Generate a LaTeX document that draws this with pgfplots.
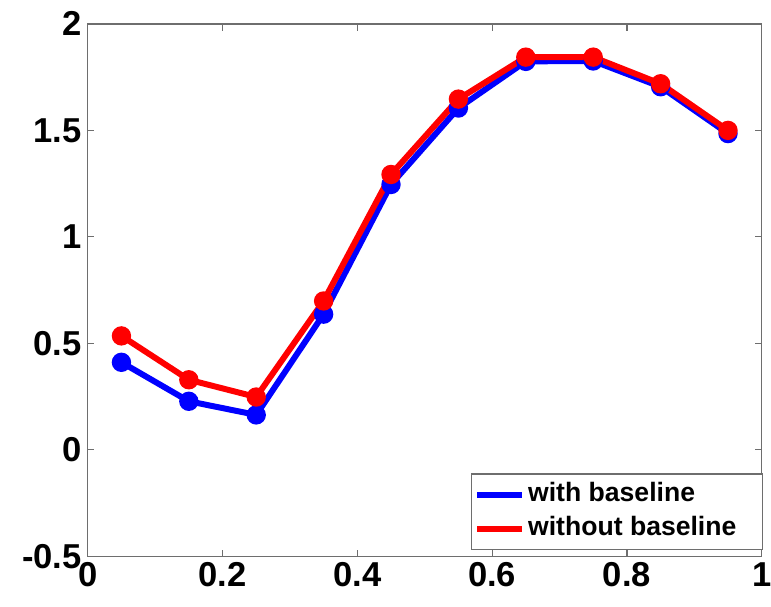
\documentclass[border=0pt]{standalone}
\usepackage{fontspec}
\setmainfont{Liberation Sans}
\usepackage{pgfplots}
\pgfplotsset{compat=1.18}

\definecolor{mblue}{RGB}{0,0,255}
\definecolor{mred}{RGB}{255,0,0}
\definecolor{axgray}{RGB}{110,110,110}

\begin{document}
\begin{tikzpicture}
  \begin{axis}[
    scale only axis,
    width=507pt, height=400.5pt,
    xmin=0, xmax=1, ymin=-0.5, ymax=2,
    xtick={0,0.2,0.4,0.6,0.8,1},
    ytick={-0.5,0,0.5,1,1.5,2},
    tick align=inside, major tick length=5pt,
    axis line style={axgray, line width=0.9pt},
    tick style={axgray, line width=0.9pt},
    ticklabel style={font=\fontsize{26}{26}\selectfont\bfseries},
    /pgf/number format/assume math mode=true,
    xticklabel style={yshift=-1pt},
    yticklabel style={xshift=-1pt},
    legend style={at={(1,0)}, anchor=south east, yshift=4.5pt, xshift=0.75pt,
      draw=axgray, line width=0.9pt,
      font=\fontsize{20}{22}\selectfont\bfseries,
      inner xsep=2pt, inner ysep=6pt, row sep=6pt,
      nodes={inner sep=0pt, text height=15pt, text depth=4.5pt}},
    legend cell align=left,
    legend image code/.code={\draw[mark=none,#1] (0pt,0pt) -- (34pt,0pt);},
  ]
    % with baseline
    \addplot[mblue, line width=4.5pt, mark=*, mark size=5pt] coordinates {
      (0.05,0.411) (0.15,0.228) (0.25,0.164) (0.35,0.637) (0.45,1.246)
      (0.55,1.605) (0.65,1.824) (0.75,1.826) (0.85,1.705) (0.95,1.485)
    };
    \addlegendentry{\makebox[176pt][l]{\hspace{2pt}with baseline}}
    % without baseline
    \addplot[mred, line width=4.5pt, mark=*, mark size=5pt] coordinates {
      (0.05,0.535) (0.15,0.329) (0.25,0.248) (0.35,0.699) (0.45,1.293)
      (0.55,1.647) (0.65,1.844) (0.75,1.844) (0.85,1.719) (0.95,1.500)
    };
    \addlegendentry{\makebox[176pt][l]{\hspace{2pt}without baseline}}
  \end{axis}
  \pgfresetboundingbox
  \path[use as bounding box]
    ([shift={(-66pt,-37.5pt)}]current axis.south west) rectangle
    ([shift={(7pt,18pt)}]current axis.north east);
\end{tikzpicture}
\end{document}
